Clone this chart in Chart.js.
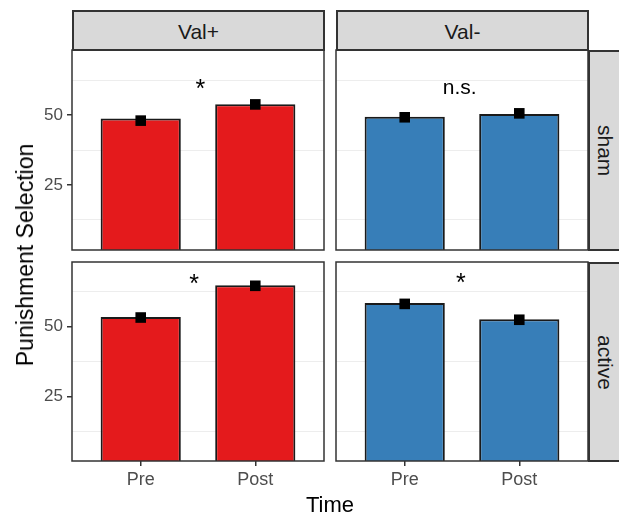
<!DOCTYPE html>
<html>
<head>
<meta charset="utf-8">
<script src="https://cdn.jsdelivr.net/npm/chart.js"></script>
<style>
  body { margin: 0; background: #fff; }
  #wrap { position: relative; width: 619px; height: 516px; overflow: hidden;
          font-family: "Liberation Sans", Arial, sans-serif; }
  canvas { position: absolute; }
  .strip { position: absolute; box-sizing: border-box; background: #d9d9d9;
           border: 2px solid #333; color: #1a1a1a; font-size: 21px;
           display: flex; align-items: center; justify-content: center; }
  .strip.side span { writing-mode: vertical-rl; }
  .title { position: absolute; color: #000; font-size: 22px; line-height: 26px;
           white-space: nowrap; transform: translate(-50%, -50%); }
</style>
</head>
<body>
<div id="wrap">
  <canvas id="p-sham-plus" width="326" height="204" style="left:0;top:48px"></canvas>
  <canvas id="p-sham-minus" width="256" height="204" style="left:334px;top:48px"></canvas>
  <canvas id="p-active-plus" width="326" height="256" style="left:0;top:260px"></canvas>
  <canvas id="p-active-minus" width="256" height="256" style="left:334px;top:260px"></canvas>

  <div class="strip" id="s-col0" style="left:72px;top:10px;width:253px;height:41px;padding-top:3px"></div>
  <div class="strip" id="s-col1" style="left:336px;top:10px;width:253px;height:41px;padding-top:3px"></div>
  <div class="strip side" id="s-row0" style="left:588px;top:50px;width:40px;height:201px;padding-right:6px"><span></span></div>
  <div class="strip side" id="s-row1" style="left:588px;top:262px;width:40px;height:200px;padding-right:6px"><span></span></div>

  <div class="title" style="left:330px;top:505px">Time</div>
  <div class="title" style="left:25px;top:255px;font-size:23px;transform:translate(-50%,-50%) rotate(-90deg)">Punishment Selection</div>
</div>

<script>
// categories
const timeLabels = ['Pre', 'Post'];
const timeX = [1, 2];
const colLabels = ['Val+', 'Val-'];
const rowLabels = ['sham', 'active'];
const barColors = ['#E41A1C', '#377EB8'];

// bar heights
const shamPlusBars = [48.8, 53.9];
const shamMinusBars = [49.4, 50.4];
const activePlusBars = [53.5, 64.9];
const activeMinusBars = [58.5, 52.7];

// mean markers (black squares)
const shamPlusMeans = [48.0, 53.8];
const shamMinusMeans = [49.2, 50.6];
const activePlusMeans = [53.3, 64.7];
const activeMinusMeans = [58.2, 52.5];

// significance labels, per panel
const sigLabels = ['*', 'n.s.', '*', '*'];
const sigX = [1.52, 1.48, 1.465, 1.49];
const sigY = [58.8, 59.7, 64.8, 65.2];

// axis ticks
const yTickValues = [12.5, 25, 37.5, 50, 62.5];
const yLabelled = [25, 50];
const yMin = 1.75, yMax = 73.25;
const xMin = 0.4, xMax = 2.6;

Chart.defaults.font.family = '"Liberation Sans", Arial, sans-serif';

document.getElementById('s-col0').textContent = colLabels[0];
document.getElementById('s-col1').textContent = colLabels[1];
document.querySelector('#s-row0 span').textContent = rowLabels[0];
document.querySelector('#s-row1 span').textContent = rowLabels[1];

// no label padding: the chart area must sit exactly on the panel
function noPad(s) {
  s.paddingTop = 0; s.paddingBottom = 0; s.paddingLeft = 0; s.paddingRight = 0;
}

// panel border + significance text
const panelFrame = {
  id: 'panelFrame',
  afterDatasetsDraw(chart, args, opts) {
    const { ctx, chartArea: a, scales: { x, y } } = chart;
    ctx.save();
    ctx.fillStyle = '#000';
    ctx.font = (opts.label === '*' ? 25 : 21) + 'px "Liberation Sans", Arial, sans-serif';
    ctx.textAlign = 'center';
    ctx.textBaseline = 'middle';
    ctx.fillText(opts.label, x.getPixelForValue(opts.x), y.getPixelForValue(opts.y));
    ctx.strokeStyle = '#333';
    ctx.lineWidth = 1.5;
    ctx.strokeRect(a.left, a.top, a.width, a.height);
    ctx.restore();
  }
};

function makePanel(id, bars, means, color, k, withY, withX) {
  return new Chart(document.getElementById(id), {
    type: 'bar',
    data: {
      datasets: [
        {
          type: 'scatter',
          data: timeX.map((x, i) => ({ x: x, y: means[i] })),
          pointStyle: 'rect',
          pointRadius: 7.5,
          pointBackgroundColor: '#000',
          pointBorderWidth: 0,
          order: 0
        },
        {
          data: timeX.map((x, i) => ({ x: x, y: bars[i] })),
          backgroundColor: color,
          borderColor: '#1a1a1a',
          borderWidth: 2,
          borderSkipped: false,
          categoryPercentage: 1,
          barPercentage: 0.7,
          clip: 0,
          order: 1
        }
      ]
    },
    options: {
      responsive: false,
      animation: false,
      events: [],
      layout: {
        autoPadding: false,
        padding: { top: 2, right: 2, bottom: withX ? 0 : 2, left: withY ? 0 : 2 }
      },
      plugins: {
        legend: { display: false },
        tooltip: { enabled: false },
        panelFrame: { label: sigLabels[k], x: sigX[k], y: sigY[k] }
      },
      scales: {
        x: {
          type: 'linear',
          min: xMin, max: xMax,
          offset: false,
          display: withX,
          afterBuildTicks: s => { s.ticks = timeX.map(v => ({ value: v })); },
          afterFit: s => { s.height = withX ? 55 : 0; noPad(s); },
          ticks: {
            callback: (v, i) => timeLabels[i],
            color: '#4D4D4D', font: { size: 18 }, padding: 3,
            autoSkip: false, maxRotation: 0
          },
          grid: { offset: false, drawOnChartArea: false, tickLength: 5, tickColor: '#333', lineWidth: 1.5 },
          border: { display: false }
        },
        y: {
          type: 'linear',
          min: yMin, max: yMax,
          afterBuildTicks: s => { s.ticks = yTickValues.map(v => ({ value: v })); },
          afterFit: s => { s.width = withY ? 72 : 0; noPad(s); },
          ticks: {
            display: withY,
            callback: v => yLabelled.includes(v) ? String(v) : '',
            color: '#4D4D4D', font: { size: 17 }, padding: 4
          },
          grid: {
            drawTicks: withY,
            tickLength: 5,
            lineWidth: c => yLabelled.includes(c.tick.value) ? 1.5 : 1,
            color: c => yLabelled.includes(c.tick.value) ? 'rgba(0,0,0,0)' : '#EDEDED',
            tickColor: c => yLabelled.includes(c.tick.value) ? '#333' : 'rgba(0,0,0,0)'
          },
          border: { display: false }
        }
      }
    },
    plugins: [panelFrame]
  });
}

makePanel('p-sham-plus', shamPlusBars, shamPlusMeans, barColors[0], 0, true, false);
makePanel('p-sham-minus', shamMinusBars, shamMinusMeans, barColors[1], 1, false, false);
makePanel('p-active-plus', activePlusBars, activePlusMeans, barColors[0], 2, true, true);
makePanel('p-active-minus', activeMinusBars, activeMinusMeans, barColors[1], 3, false, true);
</script>
</body>
</html>
